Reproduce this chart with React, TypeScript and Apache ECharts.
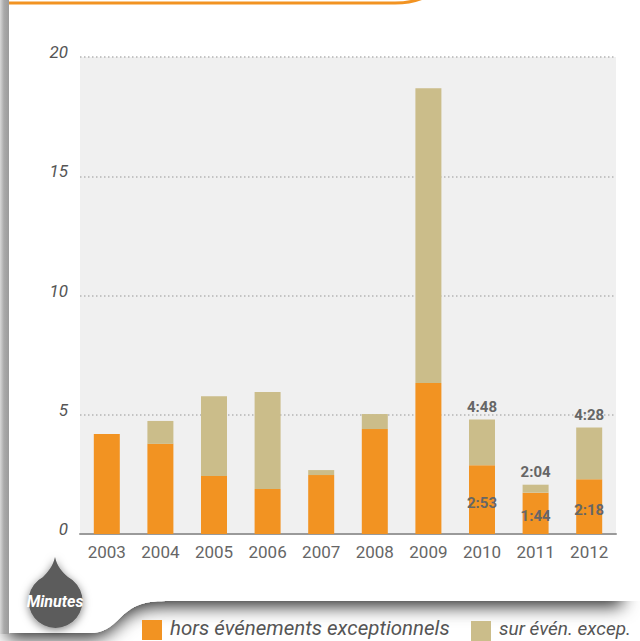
import React, { useEffect, useRef } from "react";
import * as echarts from "echarts";

const years = ["2003", "2004", "2005", "2006", "2007", "2008", "2009", "2010", "2011", "2012"];
const horsValues = [4.19, 3.78, 2.43, 1.89, 2.47, 4.4, 6.33, 2.883, 1.733, 2.3];
const surValues = [0, 0.96, 3.35, 4.06, 0.21, 0.63, 12.36, 1.917, 0.334, 2.167];
const horsLabels = ["", "", "", "", "", "", "", "2:53", "1:44", "2:18"];
const totalLabels = ["", "", "", "", "", "", "", "4:48", "2:04", "4:28"];
const yTicks = [0, 5, 10, 15, 20];
const legendNames = ["hors événements exceptionnels", "sur évén. excep."];

const ORANGE = "#f29322";
const TAN = "#cbbd8a";

const cardPath =
  "M9,-30 H660 V601 H170 C145,601 135,604 122,616 C110,628 103,633 90,633 H9 Z";
const shadowPath =
  "M9,-30 H624 V601 H170 C145,601 135,604 122,616 C110,628 103,633 90,633 H9 Z";
const orangePath = "M9,3 H395 C405,3 413,2 423,-2";
const bubblePath =
  "M55,557 C57,566 62,572 68,577 A27,27 0 1 1 43,577 C48,572 53,566 55,557 Z";

let registered = false;
function registerShapes() {
  if (registered) return;
  registered = true;
  echarts.graphic.registerShape("cardShape", echarts.graphic.extendPath(cardPath, {}) as any);
  echarts.graphic.registerShape("shadowShape", echarts.graphic.extendPath(shadowPath, {}) as any);
  echarts.graphic.registerShape("orangeLine", echarts.graphic.extendPath(orangePath, {}) as any);
  echarts.graphic.registerShape("bubble", echarts.graphic.extendPath(bubblePath, {}) as any);
}

export default function App() {
  const ref = useRef<HTMLDivElement>(null);
  useEffect(() => {
    if (!ref.current) return;
    registerShapes();
    const chart = echarts.init(ref.current, undefined, { renderer: "svg" });
    const labelFont = {
      fontFamily: "Roboto",
      fontWeight: "bold" as const,
      fontSize: 15,
      color: "#666",
    };
    const legendFont = {
      fill: "#555",
      fontFamily: "Roboto",
      fontStyle: "italic",
      lineHeight: 22,
      verticalAlign: "middle",
    };
    chart.setOption({
      animation: false,
      backgroundColor: "#ffffff",
      grid: {
        left: 80,
        right: 24,
        top: 57,
        bottom: 107,
        show: true,
        backgroundColor: "#f0f0f0",
        borderWidth: 0,
        z: 0,
      },
      xAxis: {
        type: "category",
        data: years,
        axisTick: { show: false },
        axisLine: { lineStyle: { color: "#9a9a9a", width: 2 } },
        axisLabel: { color: "#666", fontSize: 17, fontFamily: "Roboto", margin: 9 },
      },
      yAxis: {
        type: "value",
        min: yTicks[0],
        max: yTicks[yTicks.length - 1],
        interval: 5,
        axisLine: { show: false },
        axisTick: { show: false },
        axisLabel: {
          color: "#555",
          fontSize: 17,
          fontStyle: "italic",
          fontFamily: "Roboto",
          margin: 12,
          verticalAlign: "bottom",
          lineHeight: 10,
        },
        splitLine: {
          lineStyle: { color: "#b4b4b4", width: 1.5, type: [1.5, 2.5] },
        },
      },
      series: [
        {
          name: legendNames[0],
          type: "bar",
          stack: "t",
          barWidth: 26,
          data: horsValues,
          itemStyle: { color: ORANGE },
          label: {
            show: true,
            position: "inside",
            offset: [0, 3],
            ...labelFont,
            formatter: (p: any) => horsLabels[p.dataIndex],
          },
        },
        {
          name: legendNames[1],
          type: "bar",
          stack: "t",
          barWidth: 26,
          data: surValues,
          itemStyle: { color: TAN },
          label: {
            show: true,
            position: "top",
            distance: 5,
            ...labelFont,
            formatter: (p: any) => totalLabels[p.dataIndex],
          },
        },
      ],
      graphic: [
        {
          type: "shadowShape",
          z: -3,
          silent: true,
          style: {
            fill: "#ffffff",
            shadowBlur: 18,
            shadowColor: "rgba(0,0,0,0.85)",
            shadowOffsetY: 5,
            shadowOffsetX: -2,
          },
        },
        {
          type: "rect",
          z: -3,
          silent: true,
          shape: { x: 0, y: 0, width: 10, height: 634 },
          style: {
            fill: new echarts.graphic.LinearGradient(0, 0, 1, 0, [
              { offset: 0, color: "#d8d8d8" },
              { offset: 0.4, color: "#a9a9a9" },
              { offset: 0.85, color: "#9c9c9c" },
              { offset: 1, color: "#c4c4c4" },
            ]),
          },
        },
        {
          type: "cardShape",
          z: -2,
          silent: true,
          style: { fill: "#ffffff" },
        },
        {
          type: "orangeLine",
          z: 50,
          silent: true,
          style: { fill: "none", stroke: ORANGE, lineWidth: 3 },
        },
        {
          type: "bubble",
          z: 50,
          silent: true,
          style: {
            fill: "#5b5b5b",
            shadowBlur: 8,
            shadowColor: "rgba(0,0,0,0.5)",
            shadowOffsetY: 2,
          },
        },
        {
          type: "text",
          z: 51,
          x: 55,
          y: 601,
          silent: true,
          style: {
            text: "Minutes",
            fill: "#ffffff",
            fontFamily: "Roboto",
            fontWeight: "bold",
            fontStyle: "italic",
            fontSize: 16,
            align: "center",
            verticalAlign: "middle",
          },
        },
        {
          type: "rect",
          z: 50,
          silent: true,
          shape: { x: 142, y: 620, width: 20, height: 20 },
          style: { fill: ORANGE },
        },
        {
          type: "text",
          z: 50,
          x: 170,
          y: 628,
          silent: true,
          style: { text: legendNames[0], fontSize: 20.5, ...legendFont },
        },
        {
          type: "rect",
          z: 50,
          silent: true,
          shape: { x: 471, y: 621, width: 20, height: 20 },
          style: { fill: TAN },
        },
        {
          type: "text",
          z: 50,
          x: 499,
          y: 628,
          silent: true,
          style: { text: legendNames[1], fontSize: 19, ...legendFont },
        },
      ],
    });
    return () => chart.dispose();
  }, []);
  return (
    <div
      ref={ref}
      style={{ position: "fixed", left: 0, top: 0, width: 640, height: 641 }}
    />
  );
}
